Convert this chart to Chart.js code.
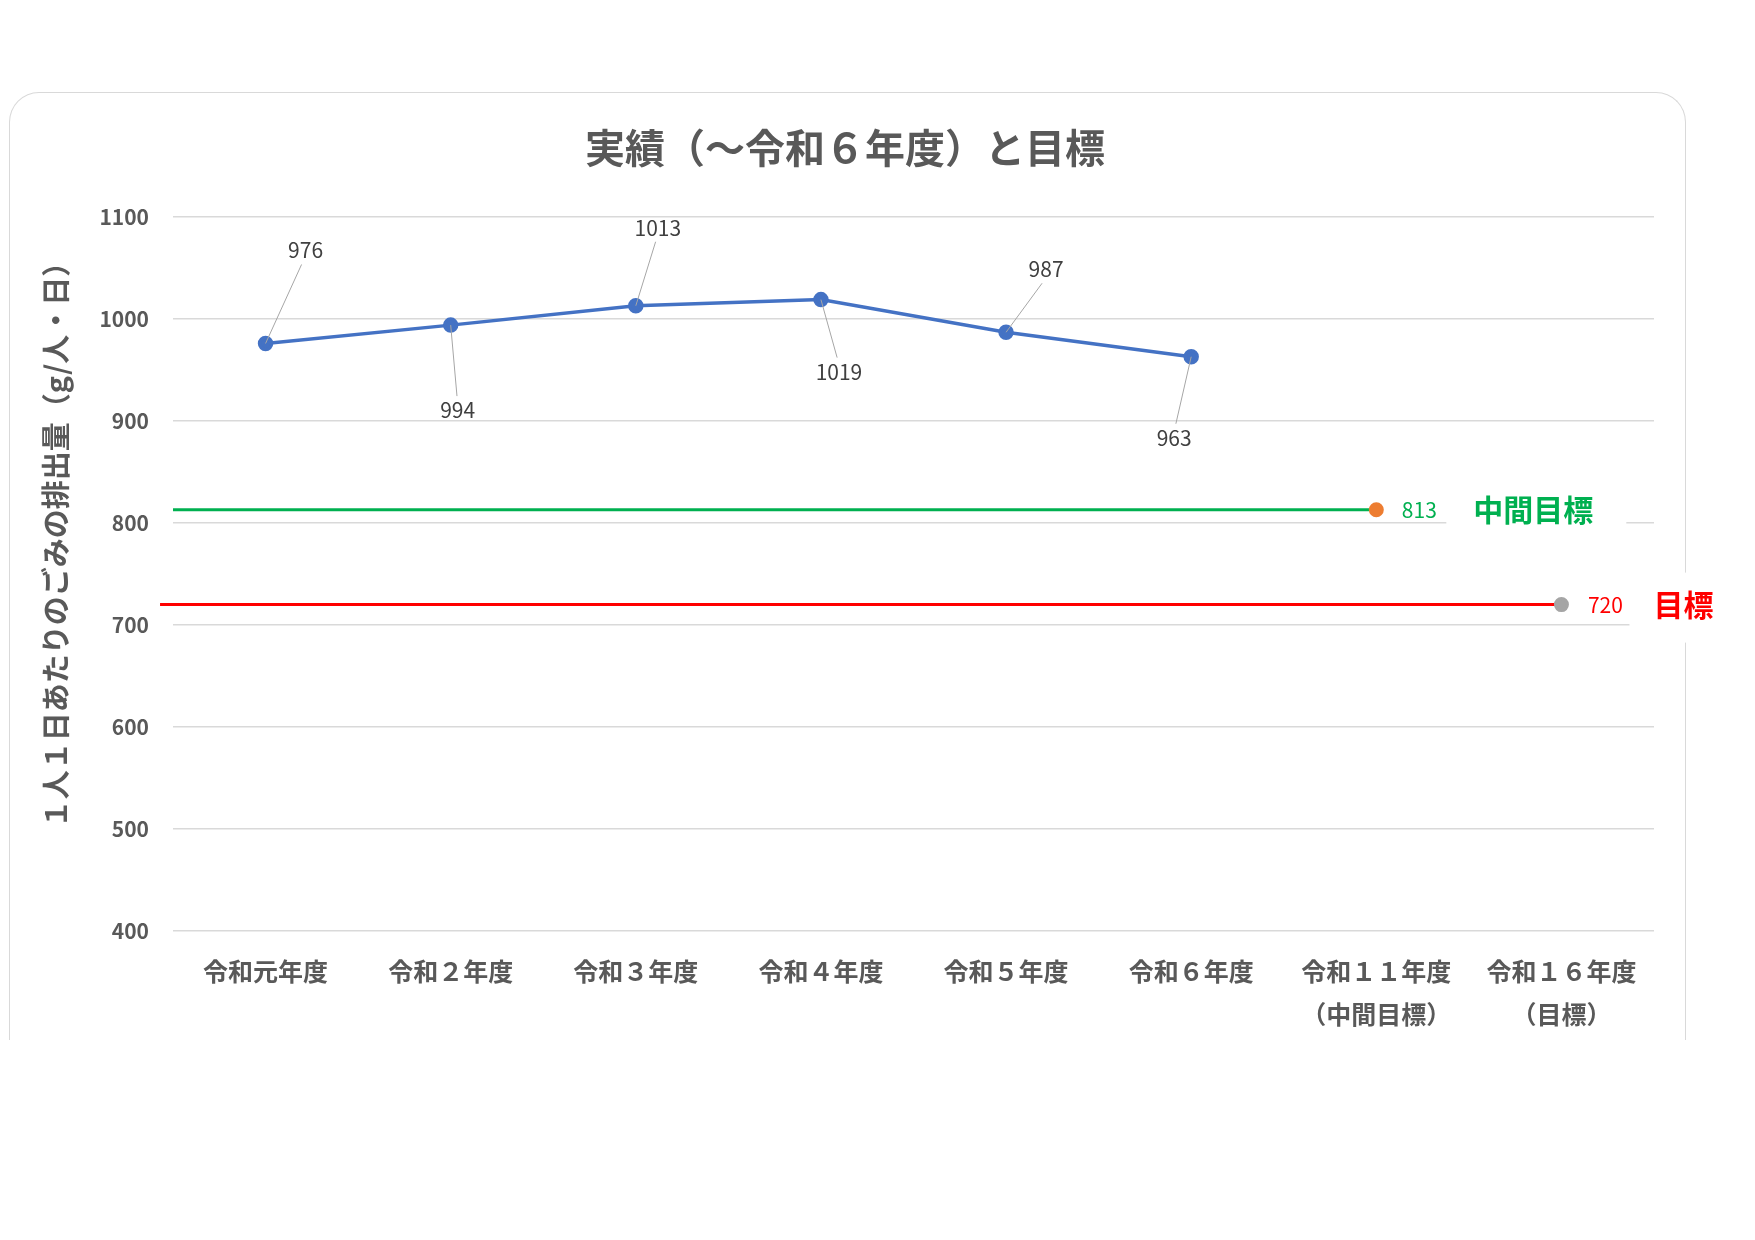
<!DOCTYPE html>
<html lang="ja">
<head>
<meta charset="utf-8">
<title>実績（～令和６年度）と目標</title>
<script src="https://cdn.jsdelivr.net/npm/chart.js@4.4.1/dist/chart.umd.min.js"></script>
<style>
  html, body { margin: 0; padding: 0; background: #fff; }
  .page { position: relative; width: 1755px; height: 1240px; overflow: hidden; }
  .card {
    position: absolute; left: 9px; top: 92px; width: 1677px; height: 948px;
    border: 1.5px solid #d9d9d9; border-bottom: none; border-radius: 30px 30px 0 0;
    box-sizing: border-box;
  }
  #chart { position: absolute; left: 0; top: 0; }
</style>
</head>
<body>
<div class="page">
  <div class="card"></div>
  <canvas id="chart" width="1755" height="1240"></canvas>
</div>
<script>
const YEARS = [
  '令和元年度', '令和２年度', '令和３年度', '令和４年度', '令和５年度', '令和６年度',
  ['令和１１年度', '（中間目標）'], ['令和１６年度', '（目標）']
];
const ACTUAL = [976, 994, 1013, 1019, 987, 963];
const MID_TARGET = 813;
const MID_INDEX = 6;
const FINAL_TARGET = 720;
const FINAL_INDEX = 7;
const Y_TICKS = [400, 500, 600, 700, 800, 900, 1000, 1100];

const TITLE = '実績（～令和６年度）と目標';
const Y_TITLE = '１人１日あたりのごみの排出量（g/人・日）';

// label offsets from each blue point (px)
const LABEL_OFFSETS = [[40, -93], [7, 85], [22, -78], [18, 72], [40, -63], [-17, 81]];

const FONT = '"Noto Sans CJK JP", "Noto Sans", sans-serif';
const GRAY = '#595959';

Chart.defaults.font.family = FONT;

const labelPlugin = {
  id: 'labels',
  afterDatasetsDraw(chart) {
    const ctx = chart.ctx;
    ctx.save();
    ctx.textAlign = 'center';
    ctx.textBaseline = 'middle';

    // blue data labels with leader lines
    const pts = chart.getDatasetMeta(0).data;
    ctx.font = '21px ' + FONT;
    pts.forEach((p, i) => {
      const [dx, dy] = LABEL_OFFSETS[i];
      const lx = p.x + dx, ly = p.y + dy;
      const ey = dy < 0 ? ly + 14 : ly - 14;
      ctx.strokeStyle = '#a6a6a6';
      ctx.lineWidth = 1;
      ctx.beginPath();
      ctx.moveTo(p.x, p.y);
      ctx.lineTo(lx - dx * 0.1, ey);
      ctx.stroke();
      ctx.fillStyle = '#404040';
      ctx.fillText(String(ACTUAL[i]), lx, ly);
    });

    // middle target
    const m = chart.getDatasetMeta(1).data[1];
    ctx.fillStyle = '#fff';
    ctx.fillRect(m.x + 70, m.y - 22, 180, 44);
    ctx.fillStyle = '#00b050';
    ctx.font = '21px ' + FONT;
    ctx.fillText(String(MID_TARGET), m.x + 43, m.y);
    ctx.font = 'bold 30px ' + FONT;
    ctx.fillText('中間目標', m.x + 157, m.y);

    // final target
    const f = chart.getDatasetMeta(2).data[1];
    ctx.fillStyle = '#fff';
    ctx.fillRect(f.x + 68, f.y - 32, 92, 70);
    ctx.fillStyle = '#ff0000';
    ctx.font = '21px ' + FONT;
    ctx.fillText(String(FINAL_TARGET), f.x + 44, f.y);
    ctx.font = 'bold 30px ' + FONT;
    ctx.fillText('目標', f.x + 122, f.y);

    // y axis title
    ctx.translate(56, 538);
    ctx.rotate(-Math.PI / 2);
    ctx.fillStyle = GRAY;
    ctx.font = 'bold 29px ' + FONT;
    ctx.fillText(Y_TITLE, 0, 0);
    ctx.restore();
  }
};

new Chart(document.getElementById('chart'), {
  type: 'line',
  data: {
    datasets: [
      {
        label: '実績',
        data: ACTUAL.map((v, i) => ({ x: i, y: v })),
        borderColor: '#4472c4',
        backgroundColor: '#4472c4',
        borderWidth: 3.5,
        pointRadius: 6,
        pointBackgroundColor: '#4472c4',
        pointBorderColor: '#4472c4'
      },
      {
        label: '中間目標',
        data: [{ x: -0.5, y: MID_TARGET }, { x: MID_INDEX, y: MID_TARGET }],
        borderColor: '#00b050',
        borderWidth: 3,
        pointRadius: [0, 6],
        pointBackgroundColor: '#ed7d31',
        pointBorderColor: '#ed7d31'
      },
      {
        label: '目標',
        data: [{ x: -0.57, y: FINAL_TARGET }, { x: FINAL_INDEX, y: FINAL_TARGET }],
        borderColor: '#ff0000',
        borderWidth: 3,
        clip: false,
        pointRadius: [0, 6],
        pointBackgroundColor: '#a5a5a5',
        pointBorderColor: '#a5a5a5'
      }
    ]
  },
  options: {
    responsive: false,
    animation: false,
    layout: { padding: { left: 36, right: 101, top: 124, bottom: 189 } },
    plugins: {
      legend: { display: false },
      tooltip: { enabled: false },
      title: {
        display: true,
        text: TITLE,
        color: GRAY,
        font: { size: 40, weight: 'bold', lineHeight: 1.2 },
        padding: { top: 0, bottom: 45 }
      }
    },
    scales: {
      x: {
        type: 'linear',
        min: -0.5,
        max: 7.5,
        afterBuildTicks: s => { s.ticks = YEARS.map((_, i) => ({ value: i })); },
        afterFit: s => { s.height = 120; },
        grid: { display: false },
        border: { display: false },
        ticks: {
          autoSkip: false,
          maxRotation: 0,
          padding: 11,
          color: GRAY,
          font: { size: 25, weight: 'bold', lineHeight: 1.72 },
          callback: v => YEARS[v]
        }
      },
      y: {
        min: 400,
        max: 1100,
        afterBuildTicks: s => { s.ticks = Y_TICKS.map(v => ({ value: v })); },
        afterFit: s => { s.width = 137; },
        grid: { color: '#d9d9d9', lineWidth: 1.5, drawTicks: false },
        border: { display: false },
        ticks: {
          padding: 24,
          color: GRAY,
          font: { size: 21, weight: 'bold' },
          callback: v => String(v)
        }
      }
    }
  },
  plugins: [labelPlugin]
});
</script>
</body>
</html>
